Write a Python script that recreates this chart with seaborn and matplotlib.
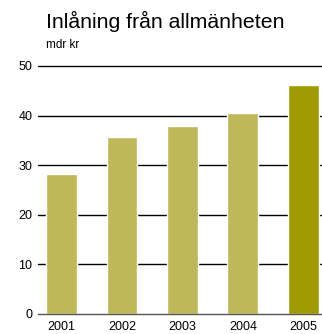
import matplotlib
matplotlib.use("Agg")
import matplotlib.pyplot as plt
import seaborn as sns
import pandas as pd

years = ["2001", "2002", "2003", "2004", "2005"]
values = [28.2, 35.7, 37.9, 40.5, 46.2]
yticks = [0, 10, 20, 30, 40, 50]
title = "Inlåning från allmänheten"
unit = "mdr kr"

sns.set_style("white")
plt.rcParams['font.family'] = ['Liberation Sans', 'DejaVu Sans']
plt.rcParams['text.color'] = 'black'

df = pd.DataFrame({"year": years, "value": values})
palette = ["#BEB85A"] * 4 + ["#9E9A00"]

fig = plt.figure(figsize=(3.22, 3.34), dpi=100)
ax = fig.add_axes([38/322, 20/334, 284/322, 248/334])
for y in yticks[1:]:
    ax.axhline(y, color="black", lw=1.0, zorder=0.5, clip_on=False)
sns.barplot(data=df, x="year", y="value", hue="year", palette=palette,
            legend=False, width=0.51, ax=ax, saturation=1, zorder=2)
ax.set_xlim(-0.39, 4.31)
ax.set_ylim(0, 50)
ax.set_yticks(yticks)
for s in ["top", "right", "left"]:
    ax.spines[s].set_visible(False)
ax.spines["bottom"].set_color("#555555")
ax.spines["bottom"].set_linewidth(1.0)
ax.spines["bottom"].set_zorder(3)
ax.tick_params(axis="both", length=0, labelsize=9, colors="black")
ax.tick_params(axis="y", pad=4)
ax.tick_params(axis="x", pad=5)
ax.set_xlabel("")
ax.set_ylabel("")
fig.text(46/322, 1 - 28/334, title, fontsize=15.3, ha="left", va="baseline", color="black")
fig.text(46/322, 1 - 48/334, unit, fontsize=8.5, ha="left", va="baseline", color="black")
fig.savefig("out.png", dpi=100)
